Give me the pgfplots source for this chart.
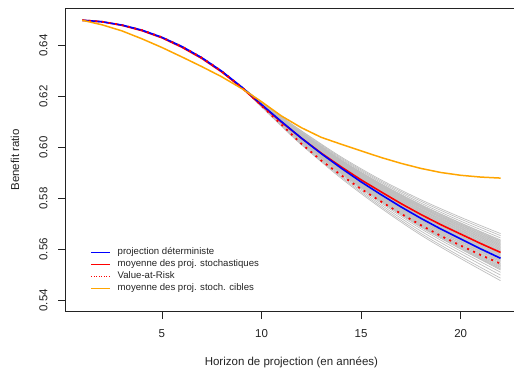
\documentclass[border=0pt]{standalone}
\usepackage{fontspec}
\setmainfont{Liberation Sans}
\usepackage{pgfplots}
\pgfplotsset{compat=1.18}
\usepackage{pgfplotstable}
\usetikzlibrary{calc}

\definecolor{rblue}{RGB}{0,0,255}
\definecolor{rred}{RGB}{255,0,0}
\definecolor{rorange}{RGB}{255,165,0}
\definecolor{rgray}{RGB}{190,190,190}
\definecolor{ink}{RGB}{35,35,35}

% Benefit ratio by projection year
\pgfplotstableread{
x  blue   red    var    orange
1  0.6500 0.6500 0.6500 0.6500
2  0.6494 0.6494 0.6494 0.6482
3  0.6481 0.6480 0.6481 0.6458
4  0.6461 0.6459 0.6461 0.6427
5  0.6433 0.6431 0.6433 0.6393
6  0.6397 0.6394 0.6397 0.6356
7  0.6353 0.6350 0.6353 0.6318
8  0.6300 0.6297 0.6300 0.6278
9  0.6238 0.6235 0.6238 0.6232
10 0.6169 0.6166 0.6164 0.6180
11 0.6102 0.6100 0.6090 0.6124
12 0.6037 0.6037 0.6015 0.6078
13 0.5976 0.5978 0.5949 0.6040
14 0.5919 0.5924 0.5891 0.6013
15 0.5865 0.5873 0.5837 0.5987
16 0.5815 0.5826 0.5788 0.5961
17 0.5767 0.5780 0.5740 0.5938
18 0.5722 0.5737 0.5695 0.5918
19 0.5680 0.5697 0.5653 0.5902
20 0.5641 0.5660 0.5615 0.5891
21 0.5602 0.5623 0.5578 0.5884
22 0.5565 0.5588 0.5544 0.5880
}\curves

\begin{document}
\begin{tikzpicture}
\begin{axis}[
  scale only axis,
  width=451.8bp, height=303.7bp,
  xmin=0.16, xmax=22.84, ymin=0.53552, ymax=0.65481,
  axis line style={ink, line width=0.8bp},
  every tick/.style={ink, line width=0.8bp},
  tick align=outside, major tick length=7bp,
  xtick pos=lower, ytick pos=left,
  xtick={5,10,15,20},
  ytick={0.54,0.56,0.58,0.60,0.62,0.64},
  font=\fontsize{11.5bp}{13bp}\selectfont,
  /pgf/number format/assume math mode=true,
  tick label style={text=ink, font=\fontsize{11.5bp}{13bp}\selectfont},
  yticklabel={\pgfmathprintnumber[fixed, precision=2, fixed zerofill]{\tick}},
  xticklabel style={anchor=center, yshift=-15bp},
  yticklabel style={rotate=90, anchor=center, yshift=15bp},
  xlabel={Horizon de projection (en années)},
  ylabel={Benefit ratio},
  label style={text=ink},
  xlabel style={at={(rel axis cs:0.5,0)}, anchor=center, yshift=-51bp},
  ylabel style={at={(rel axis cs:0,0.5)}, anchor=center, rotate=0, yshift=50.5bp},
  legend style={draw=none, fill=none, at={(rel axis cs:0.0558,0.2130)}, anchor=north west,
    font=\fontsize{9.6bp}{11.9bp}\selectfont, text=ink,
    row sep=1.9bp, inner sep=0bp, /tikz/column sep=7.7bp,
    nodes={inner sep=0bp, text height=7.5bp, text depth=2.5bp}},
  legend cell align=left,
  legend image code/.code={\draw[#1] (0bp,0bp) -- (18.3bp,0bp);},
  scen/.style={rgray, line width=0.7bp, forget plot, smooth},
]
\coordinate (bl) at (rel axis cs:0,0);

% stochastic target projections: common start, then fanning out
\addplot[scen] table[x=x, y=blue, restrict x to domain=1:9] {\curves};
\addplot[scen] coordinates {(9,0.6238)(10,0.6160)(11,0.6084)(12,0.6011)(14,0.5879)(16,0.5762)(18,0.5656)(20,0.5564)(22,0.5477)};
\addplot[scen] coordinates {(9,0.6238)(10,0.6161)(11,0.6086)(12,0.6014)(14,0.5884)(16,0.5768)(18,0.5663)(20,0.5572)(22,0.5487)};
\addplot[scen] coordinates {(9,0.6238)(10,0.6162)(11,0.6089)(12,0.6017)(14,0.5889)(16,0.5775)(18,0.5672)(20,0.5583)(22,0.5499)};
\addplot[scen] coordinates {(9,0.6238)(10,0.6163)(11,0.6091)(12,0.6020)(14,0.5894)(16,0.5782)(18,0.5681)(20,0.5593)(22,0.5510)};
\addplot[scen] coordinates {(9,0.6238)(10,0.6164)(11,0.6093)(12,0.6023)(14,0.5898)(16,0.5787)(18,0.5687)(20,0.5601)(22,0.5519)};
\addplot[scen] coordinates {(9,0.6238)(10,0.6165)(11,0.6093)(12,0.6024)(14,0.5900)(16,0.5789)(18,0.5690)(20,0.5603)(22,0.5522)};
\addplot[scen] coordinates {(9,0.6238)(10,0.6165)(11,0.6094)(12,0.6025)(14,0.5901)(16,0.5791)(18,0.5692)(20,0.5606)(22,0.5525)};
\addplot[scen] coordinates {(9,0.6238)(10,0.6165)(11,0.6095)(12,0.6026)(14,0.5903)(16,0.5793)(18,0.5695)(20,0.5609)(22,0.5529)};
\addplot[scen] coordinates {(9,0.6238)(10,0.6166)(11,0.6095)(12,0.6027)(14,0.5904)(16,0.5795)(18,0.5697)(20,0.5612)(22,0.5532)};
\addplot[scen] coordinates {(9,0.6238)(10,0.6166)(11,0.6096)(12,0.6028)(14,0.5906)(16,0.5798)(18,0.5700)(20,0.5615)(22,0.5536)};
\addplot[scen] coordinates {(9,0.6238)(10,0.6166)(11,0.6097)(12,0.6029)(14,0.5907)(16,0.5799)(18,0.5702)(20,0.5618)(22,0.5539)};
\addplot[scen] coordinates {(9,0.6238)(10,0.6167)(11,0.6098)(12,0.6030)(14,0.5909)(16,0.5802)(18,0.5705)(20,0.5622)(22,0.5543)};
\addplot[scen] coordinates {(9,0.6238)(10,0.6167)(11,0.6098)(12,0.6031)(14,0.5910)(16,0.5804)(18,0.5708)(20,0.5624)(22,0.5546)};
\addplot[scen] coordinates {(9,0.6238)(10,0.6167)(11,0.6099)(12,0.6032)(14,0.5912)(16,0.5806)(18,0.5711)(20,0.5628)(22,0.5550)};
\addplot[scen] coordinates {(9,0.6238)(10,0.6168)(11,0.6100)(12,0.6033)(14,0.5914)(16,0.5808)(18,0.5713)(20,0.5630)(22,0.5553)};
\addplot[scen] coordinates {(9,0.6238)(10,0.6168)(11,0.6100)(12,0.6034)(14,0.5915)(16,0.5810)(18,0.5715)(20,0.5633)(22,0.5556)};
\addplot[scen] coordinates {(9,0.6238)(10,0.6168)(11,0.6101)(12,0.6035)(14,0.5916)(16,0.5811)(18,0.5717)(20,0.5636)(22,0.5559)};
\addplot[scen] coordinates {(9,0.6238)(10,0.6169)(11,0.6101)(12,0.6036)(14,0.5918)(16,0.5813)(18,0.5720)(20,0.5638)(22,0.5562)};
\addplot[scen] coordinates {(9,0.6238)(10,0.6169)(11,0.6102)(12,0.6037)(14,0.5919)(16,0.5815)(18,0.5722)(20,0.5641)(22,0.5565)};
\addplot[scen] coordinates {(9,0.6238)(10,0.6169)(11,0.6103)(12,0.6038)(14,0.5920)(16,0.5817)(18,0.5724)(20,0.5644)(22,0.5568)};
\addplot[scen] coordinates {(9,0.6238)(10,0.6170)(11,0.6103)(12,0.6039)(14,0.5922)(16,0.5819)(18,0.5727)(20,0.5646)(22,0.5571)};
\addplot[scen] coordinates {(9,0.6238)(10,0.6170)(11,0.6104)(12,0.6040)(14,0.5923)(16,0.5820)(18,0.5729)(20,0.5649)(22,0.5574)};
\addplot[scen] coordinates {(9,0.6238)(10,0.6170)(11,0.6104)(12,0.6041)(14,0.5924)(16,0.5822)(18,0.5731)(20,0.5652)(22,0.5577)};
\addplot[scen] coordinates {(9,0.6238)(10,0.6171)(11,0.6105)(12,0.6042)(14,0.5926)(16,0.5824)(18,0.5733)(20,0.5654)(22,0.5580)};
\addplot[scen] coordinates {(9,0.6238)(10,0.6171)(11,0.6106)(12,0.6042)(14,0.5927)(16,0.5826)(18,0.5736)(20,0.5657)(22,0.5583)};
\addplot[scen] coordinates {(9,0.6238)(10,0.6171)(11,0.6106)(12,0.6043)(14,0.5928)(16,0.5828)(18,0.5738)(20,0.5659)(22,0.5586)};
\addplot[scen] coordinates {(9,0.6238)(10,0.6171)(11,0.6107)(12,0.6044)(14,0.5930)(16,0.5829)(18,0.5740)(20,0.5662)(22,0.5589)};
\addplot[scen] coordinates {(9,0.6238)(10,0.6172)(11,0.6107)(12,0.6045)(14,0.5931)(16,0.5831)(18,0.5742)(20,0.5665)(22,0.5592)};
\addplot[scen] coordinates {(9,0.6238)(10,0.6172)(11,0.6108)(12,0.6046)(14,0.5933)(16,0.5833)(18,0.5745)(20,0.5667)(22,0.5595)};
\addplot[scen] coordinates {(9,0.6238)(10,0.6172)(11,0.6109)(12,0.6047)(14,0.5934)(16,0.5835)(18,0.5747)(20,0.5670)(22,0.5598)};
\addplot[scen] coordinates {(9,0.6238)(10,0.6173)(11,0.6109)(12,0.6048)(14,0.5935)(16,0.5837)(18,0.5749)(20,0.5673)(22,0.5601)};
\addplot[scen] coordinates {(9,0.6238)(10,0.6173)(11,0.6110)(12,0.6049)(14,0.5937)(16,0.5838)(18,0.5751)(20,0.5675)(22,0.5604)};
\addplot[scen] coordinates {(9,0.6238)(10,0.6173)(11,0.6110)(12,0.6050)(14,0.5938)(16,0.5840)(18,0.5754)(20,0.5678)(22,0.5607)};
\addplot[scen] coordinates {(9,0.6238)(10,0.6174)(11,0.6111)(12,0.6051)(14,0.5939)(16,0.5842)(18,0.5756)(20,0.5681)(22,0.5610)};
\addplot[scen] coordinates {(9,0.6238)(10,0.6174)(11,0.6112)(12,0.6051)(14,0.5941)(16,0.5844)(18,0.5758)(20,0.5683)(22,0.5613)};
\addplot[scen] coordinates {(9,0.6238)(10,0.6174)(11,0.6112)(12,0.6052)(14,0.5942)(16,0.5846)(18,0.5760)(20,0.5686)(22,0.5616)};
\addplot[scen] coordinates {(9,0.6238)(10,0.6174)(11,0.6113)(12,0.6053)(14,0.5943)(16,0.5847)(18,0.5763)(20,0.5689)(22,0.5619)};
\addplot[scen] coordinates {(9,0.6238)(10,0.6175)(11,0.6113)(12,0.6054)(14,0.5945)(16,0.5849)(18,0.5765)(20,0.5691)(22,0.5622)};
\addplot[scen] coordinates {(9,0.6238)(10,0.6175)(11,0.6114)(12,0.6055)(14,0.5946)(16,0.5851)(18,0.5767)(20,0.5694)(22,0.5625)};
\addplot[scen] coordinates {(9,0.6238)(10,0.6175)(11,0.6115)(12,0.6056)(14,0.5947)(16,0.5853)(18,0.5769)(20,0.5696)(22,0.5628)};
\addplot[scen] coordinates {(9,0.6238)(10,0.6176)(11,0.6115)(12,0.6057)(14,0.5949)(16,0.5855)(18,0.5772)(20,0.5699)(22,0.5631)};
\addplot[scen] coordinates {(9,0.6238)(10,0.6176)(11,0.6116)(12,0.6058)(14,0.5950)(16,0.5856)(18,0.5774)(20,0.5702)(22,0.5634)};
\addplot[scen] coordinates {(9,0.6238)(10,0.6176)(11,0.6116)(12,0.6059)(14,0.5951)(16,0.5858)(18,0.5776)(20,0.5704)(22,0.5637)};
\addplot[scen] coordinates {(9,0.6238)(10,0.6177)(11,0.6118)(12,0.6061)(14,0.5955)(16,0.5863)(18,0.5782)(20,0.5711)(22,0.5645)};
\addplot[scen] coordinates {(9,0.6238)(10,0.6178)(11,0.6120)(12,0.6064)(14,0.5959)(16,0.5868)(18,0.5789)(20,0.5719)(22,0.5654)};
\addplot[scen] coordinates {(9,0.6238)(10,0.6179)(11,0.6121)(12,0.6066)(14,0.5963)(16,0.5873)(18,0.5795)(20,0.5726)(22,0.5662)};

% summary curves
\addplot[rred, line width=1.6bp, forget plot] table[x=x, y=red] {\curves};
\addplot[rblue, line width=1.6bp, forget plot] table[x=x, y=blue] {\curves};
\addplot[rred, line width=1.8bp, dash pattern=on 2bp off 4.6bp, forget plot] table[x=x, y=var] {\curves};
\addplot[rorange, line width=1.5bp, forget plot] table[x=x, y=orange] {\curves};

% legend
\addlegendimage{rblue, line width=0.8bp}
\addlegendentry{projection déterministe}
\addlegendimage{rred, line width=0.8bp}
\addlegendentry{moyenne des proj. stochastiques}
\addlegendimage{rred, line width=0.8bp, dash pattern=on 1bp off 1.5bp}
\addlegendentry{Value-at-Risk}
\addlegendimage{rorange, line width=0.8bp}
\addlegendentry{moyenne des proj. stoch. cibles}
\end{axis}
\pgfresetboundingbox
\path[use as bounding box] ($(bl)+(-65.5bp,-62.3bp)$) rectangle ($(bl)+(448.5bp,311.7bp)$);
\end{tikzpicture}
\end{document}
